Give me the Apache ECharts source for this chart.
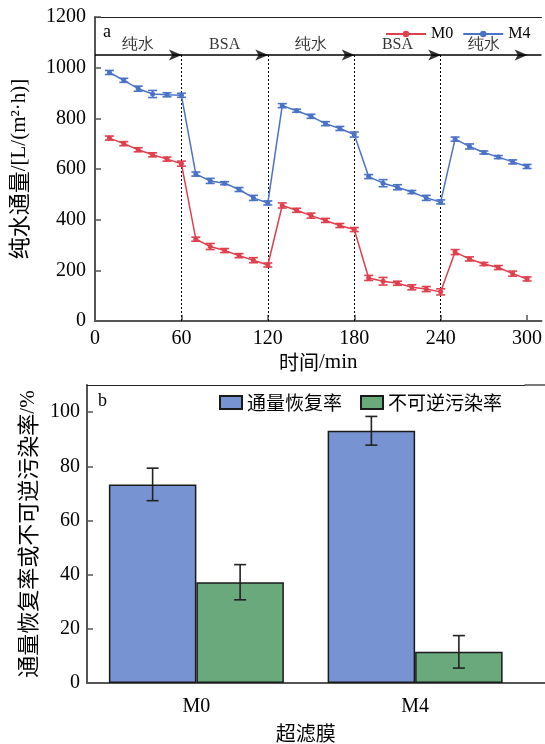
<!DOCTYPE html>
<html>
<head>
<meta charset="utf-8">
<script src="https://cdn.jsdelivr.net/npm/echarts@6/dist/echarts.min.js"></script>
<style>html,body{margin:0;padding:0;background:#fff;}#c{width:545px;height:744px;}</style>
</head>
<body>
<div id="c"></div>
<script>
// ---------- data (panel a) ----------
const timeMin = [10,20,30,40,50,60, 70,80,90,100,110,120, 130,140,150,160,170,180, 190,200,210,220,230,240, 250,260,270,280,290,300];
const fluxM0 = [722,700,676,656,639,621, 323,294,278,258,240,221, 456,437,416,397,377,361, 170,157,149,133,126,115, 272,245,225,211,187,166];
const errM0  = [8,8,8,8,8,10, 8,12,8,8,10,8, 10,8,10,8,8,8, 10,15,8,10,10,12, 10,8,6,8,10,8];
const fluxM4 = [981,950,917,896,893,891, 580,553,544,519,486,466, 850,830,808,779,760,736, 570,544,528,509,486,470, 718,689,665,647,628,610];
const errM4  = [8,8,10,14,8,8, 8,10,6,8,10,8, 8,6,8,8,8,10, 8,14,10,6,10,8, 8,10,6,6,8,8];
const phaseLabels = ['纯水','BSA','纯水','BSA','纯水'];
const phaseBounds = [0,60,120,180,240,300];
const arrowLevel = 1050;
// ---------- data (panel b) ----------
const membranes = ['M0','M4'];
const recoveryRate = [73.3, 93.1];
const recoveryErr = [6.0, 5.3];
const irreversibleRate = [37.2, 11.5];
const irreversibleErr = [6.5, 6.0];

const SERIF = 'Liberation Serif';
const CJK = 'Noto Sans CJK SC';
const RED = '#E0404E', BLUE = '#4A72C6';
const AX = '#555';
const ARROW = 'path://M0,0 L12,5 L0,10 L3,5 Z';

const chart = echarts.init(document.getElementById('c'), null, {renderer:'canvas'});

function errSeries(xs, ys, es, color, capHalf) {
  return {
    type:'custom', xAxisIndex:0, yAxisIndex:0, z:3,
    data: xs.map((x,i)=>[x, ys[i], es[i]]),
    renderItem: function(params, api){
      const x = api.value(0), y = api.value(1), e = api.value(2);
      const lo = api.coord([x, y-e]), hi = api.coord([x, y+e]);
      const st = {stroke: color, lineWidth: 1.6};
      return {type:'group', children:[
        {type:'line', shape:{x1:lo[0],y1:lo[1],x2:hi[0],y2:hi[1]}, style:st},
        {type:'line', shape:{x1:lo[0]-capHalf,y1:lo[1],x2:lo[0]+capHalf,y2:lo[1]}, style:st},
        {type:'line', shape:{x1:hi[0]-capHalf,y1:hi[1],x2:hi[0]+capHalf,y2:hi[1]}, style:st}
      ]};
    }
  };
}
function barErr(vals, errs, side) {
  return {
    type:'custom', xAxisIndex:2, yAxisIndex:1, z:5,
    data: vals.map((v,i)=>[i, v, errs[i]]),
    renderItem: function(params, api){
      const i = api.value(0), v = api.value(1), e = api.value(2);
      const band = api.size([1,0])[0];
      const off = side * 0.2 * band;
      const lo = api.coord([i, v-e]), hi = api.coord([i, v+e]);
      const x = lo[0] + off;
      const st = {stroke:'#222', lineWidth:1.6};
      return {type:'group', children:[
        {type:'line', shape:{x1:x,y1:lo[1],x2:x,y2:hi[1]}, style:st},
        {type:'line', shape:{x1:x-6,y1:lo[1],x2:x+6,y2:lo[1]}, style:st},
        {type:'line', shape:{x1:x-6,y1:hi[1],x2:x+6,y2:hi[1]}, style:st}
      ]};
    }
  };
}

const dividerData = phaseBounds.slice(1,-1).map(b=>({coords:[[b,0],[b,arrowLevel]]}));
const arrowHeads = phaseBounds.slice(1).map(b=>[b, arrowLevel]);
const phaseLabelData = phaseLabels.map((t,i)=>({name:t, value:[(phaseBounds[i]+phaseBounds[i+1])/2, 1092]}));

const option = {
  animation:false,
  backgroundColor:'#fff',
  title:[
    {text:'a', left:98, top:18, textStyle:{fontFamily:SERIF, fontSize:18, fontWeight:'normal', color:'#000'}},
    {text:'b', left:93, top:387, textStyle:{fontFamily:SERIF, fontSize:18, fontWeight:'normal', color:'#000'}}
  ],
  legend:[
    {data:['M0','M4'], left:380, top:21, itemWidth:40, itemHeight:8, itemGap:9,
     textStyle:{fontFamily:SERIF, fontSize:16, color:'#000'}},
    {data:['通量恢复率','不可逆污染率'], left:214, top:388, itemWidth:22, itemHeight:13, itemGap:18, icon:'rect',
     textStyle:{fontFamily:CJK, fontSize:19, color:'#000'}}
  ],
  grid:[
    {left:92, top:17, right:0, bottom:423},
    {left:87, top:385, right:20.5, bottom:57}
  ],
  xAxis:[
    {type:'value', gridIndex:0, min:0, max:310, interval:60,
     name:'{c|时间}{l|/min}', nameLocation:'middle', nameGap:31,
     nameTextStyle:{fontSize:20, color:'#000',
       rich:{c:{fontFamily:CJK, fontSize:20, color:'#000'}, l:{fontFamily:SERIF, fontSize:21, color:'#000'}}},
     axisLine:{lineStyle:{color:AX, width:2}},
     axisTick:{inside:true, length:6, lineStyle:{color:AX, width:1.5}},
     axisLabel:{fontFamily:SERIF, fontSize:20, color:'#000', margin:8, showMaxLabel:false, formatter:v=>String(v)},
     splitLine:{show:false}},
    {type:'value', gridIndex:0, position:'top', min:0, max:310,
     axisLine:{show:true, lineStyle:{color:'#222', width:1.2}}, axisTick:{show:false}, axisLabel:{show:false}, splitLine:{show:false}},
    {type:'category', gridIndex:1, data:membranes,
     name:'超滤膜', nameLocation:'middle', nameGap:40,
     nameTextStyle:{fontFamily:CJK, fontSize:20, color:'#000'},
     axisLine:{lineStyle:{color:AX, width:2}}, axisTick:{show:false},
     axisLabel:{fontFamily:SERIF, fontSize:20, color:'#000', margin:14}},
    {type:'value', gridIndex:1, position:'top', min:0, max:1,
     axisLine:{show:true, lineStyle:{color:'#222', width:1.2}}, axisTick:{show:false}, axisLabel:{show:false}, splitLine:{show:false}}
  ],
  yAxis:[
    {type:'value', gridIndex:0, min:0, max:1200, interval:200,
     name:'{c|纯水通量}{l|/[L/(m²·h)]}', nameLocation:'middle', nameGap:65,
     nameTextStyle:{fontSize:20, color:'#000',
       rich:{c:{fontFamily:CJK, fontSize:22, color:'#000'}, l:{fontFamily:SERIF, fontSize:21, color:'#000'}}},
     axisLine:{show:true, lineStyle:{color:AX, width:2}},
     axisTick:{show:true, inside:true, length:6, lineStyle:{color:AX, width:1.5}},
     axisLabel:{fontFamily:SERIF, fontSize:20, color:'#000', margin:9, formatter:v=>String(v)},
     splitLine:{show:false}},
    {type:'value', gridIndex:1, min:0, max:110, interval:20,
     name:'{c|通量恢复率或不可逆污染率}{l|/%}', nameLocation:'middle', nameGap:36,
     nameTextStyle:{fontSize:20, color:'#000',
       rich:{c:{fontFamily:CJK, fontSize:22, color:'#000'}, l:{fontFamily:SERIF, fontSize:21, color:'#000'}}},
     axisLine:{show:true, lineStyle:{color:AX, width:2}},
     axisTick:{show:true, inside:true, length:6, lineStyle:{color:AX, width:1.5}},
     axisLabel:{fontFamily:SERIF, fontSize:20, color:'#000', margin:7, showMaxLabel:false, formatter:v=>String(v)},
     splitLine:{show:false}}
  ],
  series:[
    {type:'lines', coordinateSystem:'cartesian2d', xAxisIndex:0, yAxisIndex:0, z:2,
     data:dividerData, symbol:['none','none'],
     lineStyle:{color:'#000', width:1, type:[2,2], opacity:1}},
    {type:'lines', coordinateSystem:'cartesian2d', xAxisIndex:0, yAxisIndex:0, z:4,
     data:[{coords:[[0,arrowLevel],[310,arrowLevel]]}], symbol:['none','none'],
     lineStyle:{color:'#000', width:1.5, opacity:1}},
    {type:'scatter', xAxisIndex:0, yAxisIndex:0, z:6, data:arrowHeads, silent:true,
     symbol:ARROW, symbolSize:[13,11], symbolOffset:[-6,0], itemStyle:{color:'#000'}},
    {type:'scatter', xAxisIndex:0, yAxisIndex:0, data:phaseLabelData, symbolSize:1,
     itemStyle:{color:'rgba(0,0,0,0)'}, silent:true,
     label:{show:true, position:'inside', formatter:p=>p.name, fontFamily:SERIF, fontSize:16, color:'#000'}},
    errSeries(timeMin, fluxM0, errM0, RED, 4.5),
    errSeries(timeMin, fluxM4, errM4, BLUE, 4.5),
    {name:'M0', type:'line', xAxisIndex:0, yAxisIndex:0, z:5, data:timeMin.map((t,i)=>[t,fluxM0[i]]),
     symbol:'circle', symbolSize:5, showSymbol:true,
     lineStyle:{color:RED, width:1.5}, itemStyle:{color:RED}},
    {name:'M4', type:'line', xAxisIndex:0, yAxisIndex:0, z:5, data:timeMin.map((t,i)=>[t,fluxM4[i]]),
     symbol:'circle', symbolSize:5, showSymbol:true,
     lineStyle:{color:BLUE, width:1.5}, itemStyle:{color:BLUE}},
    {name:'通量恢复率', type:'bar', xAxisIndex:2, yAxisIndex:1, data:recoveryRate,
     barGap:'0%', barCategoryGap:'20%',
     itemStyle:{color:'#7893D2', borderColor:'#1a1a1a', borderWidth:1.5}},
    {name:'不可逆污染率', type:'bar', xAxisIndex:2, yAxisIndex:1, data:irreversibleRate,
     barGap:'0%', barCategoryGap:'20%',
     itemStyle:{color:'#69A97C', borderColor:'#1a1a1a', borderWidth:1.5}},
    barErr(recoveryRate, recoveryErr, -1),
    barErr(irreversibleRate, irreversibleErr, 1)
  ]
};
chart.setOption(option);

// extend panel b's frame lines to the right edge of the canvas, as in the reference
const yBase = chart.convertToPixel({yAxisIndex:1}, 0);
const yTop = chart.convertToPixel({yAxisIndex:1}, 110);
const xEnd = chart.convertToPixel({xAxisIndex:3}, 1);
const W = chart.getWidth();
chart.setOption({graphic:[
  {type:'line', shape:{x1:xEnd, y1:yBase, x2:W, y2:yBase}, style:{stroke:AX, lineWidth:2}, silent:true},
  {type:'line', shape:{x1:xEnd, y1:yTop, x2:W, y2:yTop}, style:{stroke:'#222', lineWidth:1.2}, silent:true}
]});
</script>
</body>
</html>
